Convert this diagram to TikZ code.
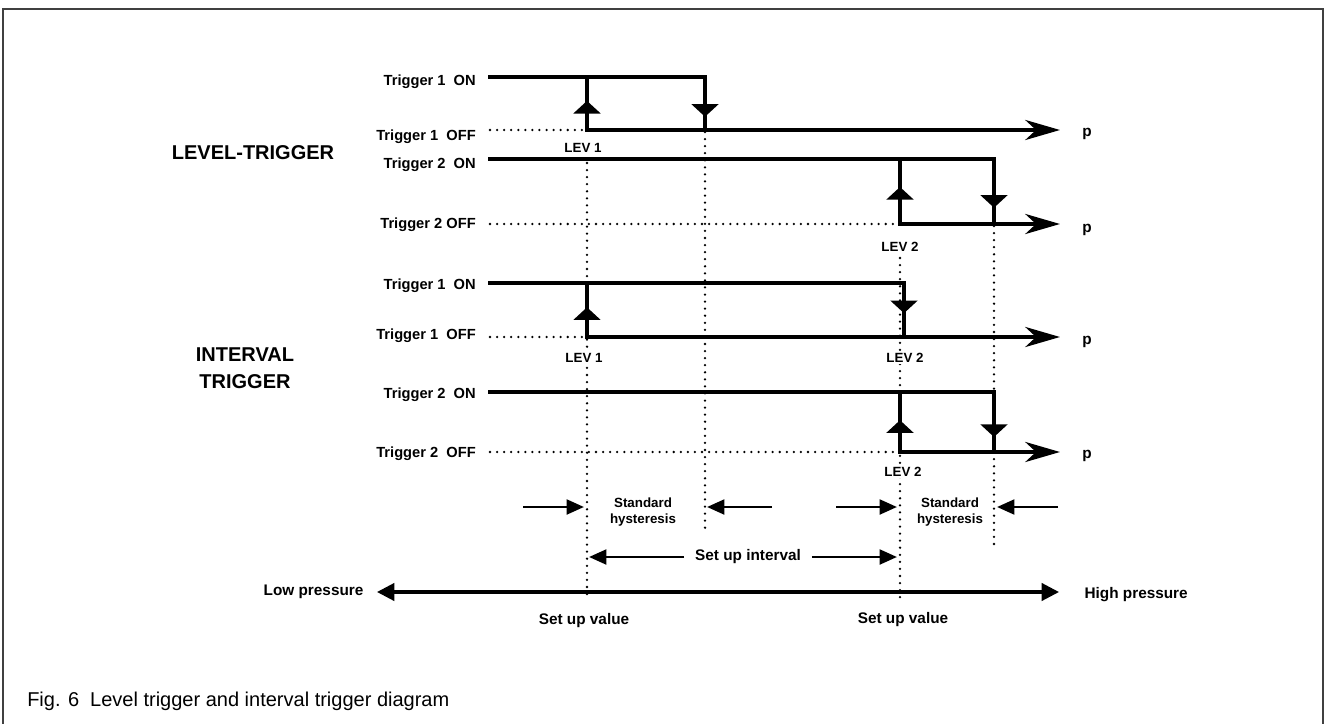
\documentclass[tikz,border=0pt]{standalone}
\usepackage{fontspec}
\setmainfont{Liberation Sans}
\usetikzlibrary{arrows.meta,decorations.markings}
\tikzset{
  sig/.style={line width=3pt,line cap=rect,line join=miter},
  dots/.style={line width=1.9pt,dash pattern=on 0pt off 5.3pt,line cap=round},
  midtri/.style={postaction={decorate},decoration={markings,
      mark=at position #1 with {\arrow{Triangle[length=9.5pt,width=20pt]}}}},
  bigtip/.style={-{Stealth[length=26pt,width=15pt,inset=8pt]}},
  harr/.style={line width=2.2pt,-{Triangle[length=13pt,width=11pt]}},
  parr/.style={line width=2.3pt,{Triangle[length=13pt,width=13pt]}-{Triangle[length=13pt,width=13pt]}},
  lbl/.style={font=\bfseries\fontsize{11}{13}\selectfont,anchor=base east,inner sep=0pt},
  big/.style={font=\bfseries\fontsize{15}{20}\selectfont,align=center},
  small/.style={font=\bfseries\fontsize{10}{11.5}\selectfont,align=center},
  lev/.style={small,fill=white,inner sep=1pt},
  mid/.style={font=\bfseries\fontsize{11.5}{14}\selectfont}
}
\begin{document}
\begin{tikzpicture}[x=0.75pt,y=-0.75pt]
  \def\xs{490} % start of the lines
  \def\xe{1060} % arrow tips
  \def\xa{587} % LEV 1
  \def\xb{705}
  \def\xc{900} % LEV 2
  \def\xd{994}
  \useasboundingbox (0,0) rectangle (1332,724);
  % frame
  \draw[line width=1.5pt,black!75] (3,730) -- (3,9) -- (1323,9) -- (1323,730);

  % dotted guides
  \draw[dots] (\xa,163) -- (\xa,598);
  \draw[dots] (\xb,132) -- (\xb,533);
  \draw[dots] (\xc,258) -- (\xc,598);
  \draw[dots] (\xd,226) -- (\xd,550);
  \draw[dots] (\xs,130) -- (\xa,130);
  \draw[dots] (\xs,224) -- (\xc,224);
  \draw[dots] (\xs,337) -- (\xa,337);
  \draw[dots] (\xs,452) -- (\xc,452);

  % LEVEL-TRIGGER
  \node[big] (levtrig) at (253,153) {LEVEL-TRIGGER};
  \node[lbl] (lt1on) at (476,85) {Trigger 1\ \ ON};
  \node[lbl] (lt1off) at (476,140) {Trigger 1\ \ OFF};
  \node[lbl] (lt2on) at (476,168) {Trigger 2\ \ ON};
  \node[lbl] (lt2off) at (476,228) {Trigger 2 OFF};
  \draw[sig] (\xs,77) -- (\xb,77);
  \draw[sig,midtri=0.75] (\xb,77) -- (\xb,130);
  \draw[sig,midtri=0.55] (\xa,130) -- (\xa,77);
  \draw[sig,bigtip] (\xa,130) -- (\xe,130);
  \draw[sig] (\xs,159) -- (\xd,159);
  \draw[sig,midtri=0.75] (\xd,159) -- (\xd,224);
  \draw[sig,midtri=0.57] (\xc,224) -- (\xc,159);
  \draw[sig,bigtip] (\xc,224) -- (\xe,224);
  \node[lev] (lev1a) at (583,148) {LEV 1};
  \node[lev] (lev2a) at (900,247) {LEV 2};
  \node[mid] (pa) at (1087,134) {p};
  \node[mid] (pb) at (1087,230) {p};

  % INTERVAL TRIGGER
  \node[big] (inttrig) at (245,368) {INTERVAL\\TRIGGER};
  \node[lbl] (it1on) at (476,289) {Trigger 1\ \ ON};
  \node[lbl] (it1off) at (476,339) {Trigger 1\ \ OFF};
  \node[lbl] (it2on) at (476,398) {Trigger 2\ \ ON};
  \node[lbl] (it2off) at (476,457) {Trigger 2\ \ OFF};
  \draw[sig] (\xs,283) -- (904,283);
  \draw[sig,midtri=0.56] (904,283) -- (904,337);
  \draw[sig,midtri=0.55] (\xa,337) -- (\xa,283);
  \draw[sig,bigtip] (\xa,337) -- (\xe,337);
  \draw[sig] (\xs,392) -- (\xd,392);
  \draw[sig,midtri=0.75] (\xd,392) -- (\xd,452);
  \draw[sig,midtri=0.53] (\xc,452) -- (\xc,392);
  \draw[sig,bigtip] (\xc,452) -- (\xe,452);
  \node[lev] (lev1b) at (584,358) {LEV 1};
  \node[lev] (lev2b) at (905,358) {LEV 2};
  \node[lev] (lev2c) at (903,472) {LEV 2};
  \node[mid] (pc) at (1087,342) {p};
  \node[mid] (pd) at (1087,456) {p};

  % hysteresis and interval
  \node[small] (hys1) at (643,512) {Standard\\hysteresis};
  \node[small] (hys2) at (950,512) {Standard\\hysteresis};
  \draw[harr] (523,507) -- (\xa-3,507);
  \draw[harr] (772,507) -- (\xb+2,507);
  \draw[harr] (836,507) -- (\xc-3,507);
  \draw[harr] (1058,507) -- (\xd+3,507);
  \node[mid,inner xsep=8pt] (siv) at (748,557) {Set up interval};
  \draw[harr] (siv.west) -- (\xa+2,557);
  \draw[harr] (siv.east) -- (\xc-3,557);

  % pressure axis
  \coordinate (plo) at (377,592);
  \coordinate (phi) at (1059,592);
  \draw[parr] (plo) -- (phi);
  \node[mid,anchor=east,inner sep=0pt] (lowp) at ([xshift=-10pt]plo) {Low pressure};
  \node[mid,anchor=west,inner sep=0pt] (highp) at ([xshift=19pt,yshift=-2pt]phi) {High pressure};
  \node[mid] (suv1) at (584,621) {Set up value};
  \node[mid] (suv2) at (903,620) {Set up value};

  % caption
  \node[anchor=base west,inner sep=0pt,font=\fontsize{15}{18}\selectfont] (cap) at (27,706) {Fig. 6\ \ Level trigger and interval trigger diagram};
\end{tikzpicture}
\end{document}
